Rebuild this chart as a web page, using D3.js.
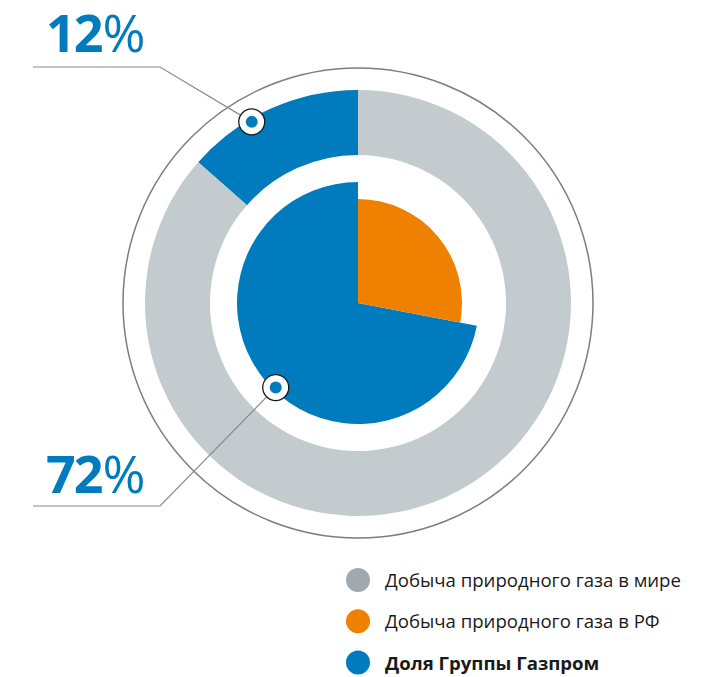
<!DOCTYPE html>
<html>
<head>
<meta charset="utf-8">
<script src="https://cdn.jsdelivr.net/npm/d3@7"></script>
<style>
  body { margin: 0; background: #fff; }
  svg text { font-family: "Open Sans", "Noto Sans", sans-serif; }
</style>
</head>
<body>
<svg width="725" height="677"></svg>
<script>
// outer ring: Gazprom share of world production (arc as drawn), rest of world
var outerNames = ['Доля Группы Газпром', 'Добыча природного газа в мире'];
var outerValues = [13.5, 86.5];
// inner pie: Gazprom share of Russian production, rest of Russia
var innerNames = ['Доля Группы Газпром', 'Добыча природного газа в РФ'];
var innerValues = [72, 28];
var calloutNumbers = ['12', '72'];
var legendLabels = ['Добыча природного газа в мире', 'Добыча природного газа в РФ', 'Доля Группы Газпром'];

var blue = '#007bbd', orange = '#f08000', ringGray = '#c3cbcf', dotGray = '#a0a9b0';

var svg = d3.select('svg');
var cx = 358, cy = 303;
var g = svg.append('g').attr('transform', 'translate(' + cx + ',' + cy + ')');

// thin outer circle
g.append('circle')
    .attr('r', 235)
    .attr('fill', 'none')
    .attr('stroke', '#7d7d7d')
    .attr('stroke-width', 1.5);

// outer ring, counter clockwise from 12 o'clock
var outerPie = d3.pie().sort(null)
    .startAngle(0).endAngle(-2 * Math.PI);
var outerArc = d3.arc().innerRadius(148).outerRadius(213);

g.append('g').selectAll('path')
    .data(outerPie(outerValues))
    .enter()
    .append('path')
    .attr('d', outerArc)
    .attr('fill', function(d, i) { return i == 0 ? blue : ringGray; });

// inner pie: orange clockwise from 12, blue the rest, bigger radius
var innerPie = d3.pie().sort(null)
    .startAngle(0).endAngle(-2 * Math.PI);
var innerRadius = [121, 104];
g.append('g').selectAll('path')
    .data(innerPie(innerValues))
    .enter()
    .append('path')
    .attr('d', function(d, i) {
        return d3.arc().innerRadius(0).outerRadius(innerRadius[i])(d);
    })
    .attr('fill', function(d, i) { return i == 0 ? blue : orange; });

// callouts
var callouts = [
    { r: 210, a: -30.4, knee: [160, 67], textY: 52 },
    { r: 118, a: -135.8, knee: [160, 506], textY: 493 }
];

callouts.forEach(function(c, i) {
    var rad = c.a * Math.PI / 180;
    var mx = cx + c.r * Math.sin(rad);
    var my = cy - c.r * Math.cos(rad);

    svg.append('polyline')
        .attr('points', [[mx, my], c.knee, [33, c.knee[1]]].map(function(p) { return p.join(','); }).join(' '))
        .attr('fill', 'none')
        .attr('stroke', '#8a8a8a')
        .attr('stroke-width', 1.2);

    svg.append('circle')
        .attr('cx', mx).attr('cy', my).attr('r', 13)
        .attr('fill', '#fff')
        .attr('stroke', '#1a1a1a')
        .attr('stroke-width', 1.3);
    svg.append('circle')
        .attr('cx', mx).attr('cy', my).attr('r', 6)
        .attr('fill', blue);

    var t = svg.append('text')
        .attr('x', 46)
        .attr('y', c.textY)
        .attr('fill', blue)
        .style('font-size', '52px');
    t.append('tspan')
        .style('font-weight', 'bold')
        .style('letter-spacing', '-2px')
        .text(calloutNumbers[i]);
    t.append('tspan')
        .style('font-weight', 'normal')
        .attr('dx', 1)
        .text('%');
});

// legend
var legendColors = [dotGray, orange, blue];
var legend = svg.append('g').selectAll('g')
    .data(legendLabels)
    .enter()
    .append('g')
    .attr('transform', function(d, i) { return 'translate(358,' + (580 + i * 41.3) + ')'; });

legend.append('circle')
    .attr('r', 12)
    .attr('fill', function(d, i) { return legendColors[i]; });

legend.append('text')
    .attr('x', 27)
    .attr('y', 7)
    .attr('fill', '#1a1a1a')
    .style('font-size', '18.6px')
    .style('font-weight', function(d, i) { return i == 2 ? 'bold' : 'normal'; })
    .text(function(d) { return d; });
</script>
</body>
</html>
